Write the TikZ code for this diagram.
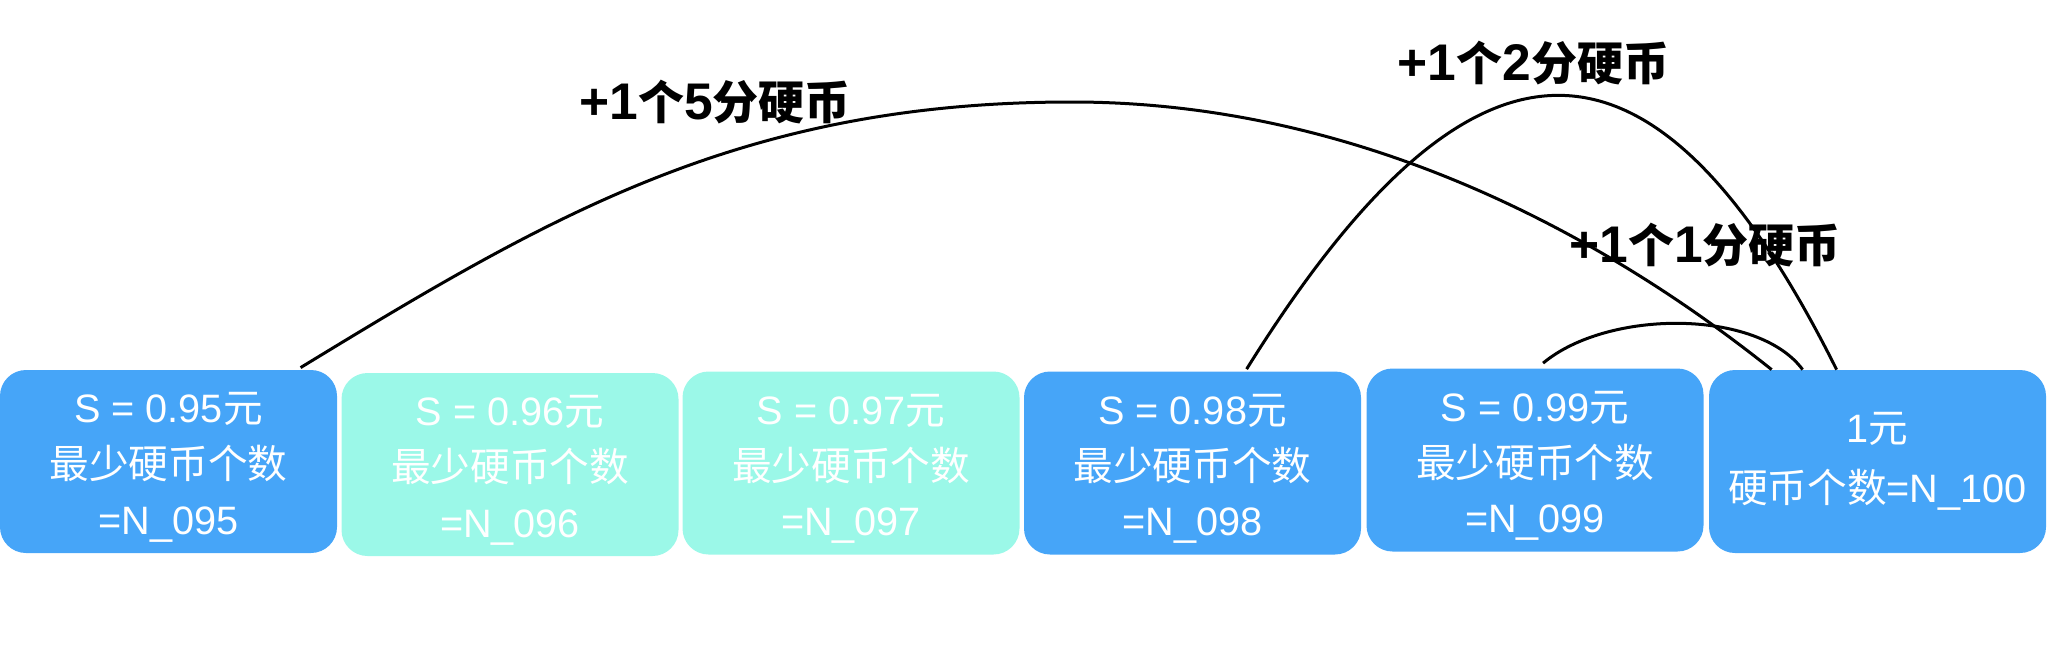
\documentclass[tikz,border=0pt]{standalone}
\usepackage{fontspec}
\setmainfont{Liberation Sans}[Scale=1.12]
\newfontfamily\cjk{Noto Sans CJK SC}
\newfontfamily\cjkbig{Noto Sans CJK SC}[Scale=1.12]
\usetikzlibrary{calc}
\definecolor{boxblue}{RGB}{70,165,248}
\definecolor{boxteal}{RGB}{155,248,232}
\newcommand\zh[1]{{\cjk #1}}
\newcommand\zb[1]{{\cjkbig #1}}
\newcommand\lift{\rule{0pt}{21pt}}
\begin{document}
\begin{tikzpicture}[x=0.5pt,y=-0.5pt,
  box/.style={rounded corners=13pt, minimum width=168.5pt, minimum height=91.5pt, inner sep=0pt, text=white, align=center, font=\fontsize{17.7pt}{27.8pt}\selectfont},
  bluebox/.style={box, fill=boxblue},
  tealbox/.style={box, fill=boxteal},
  conn/.style={draw=black, line width=1.5pt},
  lbl/.style={font=\fontsize{23pt}{28pt}\selectfont\bfseries, inner sep=0pt}]
\useasboundingbox (0,0) rectangle (2050,664);
\node[bluebox] (b1) at (168.5,461.5) {\lift S = 0.95\zb{元}\\\zb{最少硬币个数}\\=N\_095};
\node[tealbox] (b2) at (510,464.5) {\lift S = 0.96\zb{元}\\\zb{最少硬币个数}\\=N\_096};
\node[tealbox] (b3) at (851,463) {\lift S = 0.97\zb{元}\\\zb{最少硬币个数}\\=N\_097};
\node[bluebox] (b4) at (1192.5,463) {\lift S = 0.98\zb{元}\\\zb{最少硬币个数}\\=N\_098};
\node[bluebox] (b5) at (1535,460) {\lift S = 0.99\zb{元}\\\zb{最少硬币个数}\\=N\_099};
\node[bluebox] (b6) at (1877.5,461.5) {1\zb{元}\\[2pt]\zb{硬币个数}=N\_100};
\node[lbl] (l5) at (715,102) {+1\zh{个}5\zh{分硬币}};
\node[lbl] (l2) at (1533.5,63) {+1\zh{个}2\zh{分硬币}};
\node[lbl] (l1) at (1705,245) {+1\zh{个}1\zh{分硬币}};
\draw[conn] ($(b1.north west)+(301,-2)$) .. controls (551,215) and (742,102) .. (1072,102)
  .. controls (1350,102) and (1592,226) .. ($(b6.north west)+(63,0)$);
\draw[conn] ($(b4.north west)+(223,-2)$) .. controls (1474,4) and (1654,4) .. ($(b6.north west)+(128,0)$);
\draw[conn] ($(b5.north west)+(177,-5)$) .. controls (1608,309) and (1758,309) .. ($(b6.north west)+(94,0)$);
\end{tikzpicture}
\end{document}
